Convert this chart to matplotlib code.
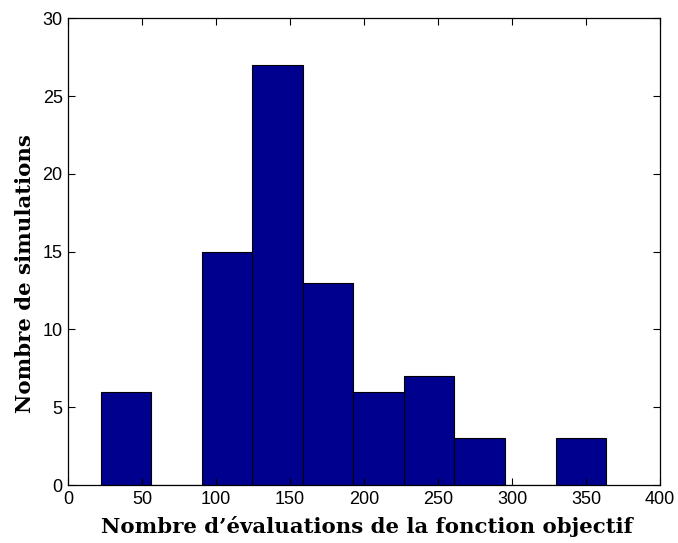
import numpy as np
import matplotlib
matplotlib.use("Agg")
import matplotlib.pyplot as plt

# Histogram of function-evaluation counts over 80 simulation runs
bin_low = 22.0
bin_high = 363.5
n_bins = 10
counts = [6, 0, 15, 27, 13, 6, 7, 3, 0, 3]

x_ticks = [0, 50, 100, 150, 200, 250, 300, 350, 400]
y_ticks = [0, 5, 10, 15, 20, 25, 30]

xlabel = "Nombre d’évaluations de la fonction objectif"
ylabel = "Nombre de simulations"

edges = np.linspace(bin_low, bin_high, n_bins + 1)
centers = 0.5 * (edges[:-1] + edges[1:])

fig = plt.figure(figsize=(6.78, 5.43), dpi=100)
ax = fig.add_axes([0.1007, 0.1068, 0.8728, 0.8595])

ax.hist(centers, bins=edges, weights=counts, color="#00008F",
        edgecolor="black", linewidth=0.8)

ax.set_xlim(0, 400)
ax.set_ylim(0, 30)
ax.set_xticks(x_ticks)
ax.set_yticks(y_ticks)
ax.tick_params(direction="in", top=True, right=True, length=5, width=0.8,
               labelsize=13)
ax.tick_params(axis="x", pad=4)
ax.tick_params(axis="y", pad=4)
for lab in ax.get_xticklabels() + ax.get_yticklabels():
    lab.set_fontfamily("Liberation Sans")
for s in ax.spines.values():
    s.set_linewidth(0.9)

ax.set_xlabel(xlabel, fontfamily="DejaVu Serif", fontweight="bold", fontsize=15.3)
ax.set_ylabel(ylabel, fontfamily="DejaVu Serif", fontweight="bold", fontsize=15.3)
ax.xaxis.set_label_coords(0.505, -0.066)
ax.yaxis.set_label_coords(-0.057, 0.454)

fig.savefig("out.png", dpi=100)
